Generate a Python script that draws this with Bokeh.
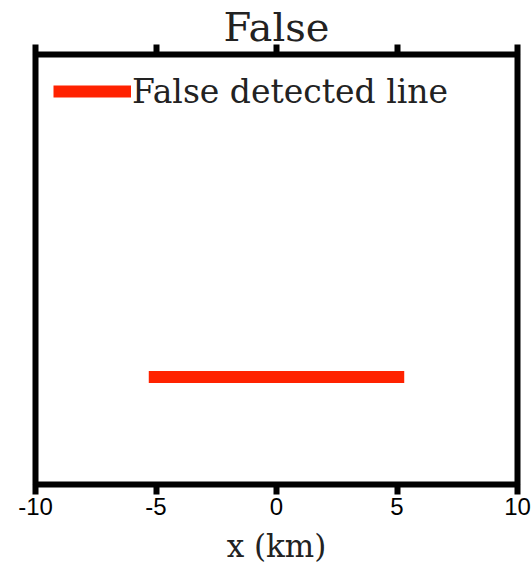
from bokeh.plotting import figure
from bokeh.models import FixedTicker, LinearAxis, Legend, LegendItem, Range1d
from bokeh.embed import file_html
from bokeh.resources import INLINE

# ---- data ----
title_text = "False"
legend_label = "False detected line"
line_x = [-5.3, 5.3]
line_y = [-5.0, -5.0]
x_ticks = [-10, -5, 0, 5, 10]
x_tick_labels = ["-10", "-5", "0", "5", "10"]
x_label = "x (km)"
x_lim = [-10, 10]
y_lim = [-10, 10]

p = figure(width=531, height=566, output_backend="svg", toolbar_location=None,
           x_range=Range1d(x_lim[0], x_lim[1]), y_range=Range1d(y_lim[0], y_lim[1]),
           x_axis_location=None, y_axis_location=None,
           min_border_left=35, min_border_right=14, min_border_top=51, min_border_bottom=80)
p.grid.visible = False
p.background_fill_color = "white"
p.border_fill_color = "white"
p.outline_line_color = "black"
p.outline_line_width = 6

SERIF = "DejaVu Serif"

def style_axis(ax):
    ax.axis_line_color = None
    ax.major_tick_line_color = "black"
    ax.major_tick_line_width = 6
    ax.major_tick_out = 10
    ax.major_tick_in = 0
    ax.minor_tick_line_color = None

# bottom axis with tick labels and axis label
xb = LinearAxis(ticker=FixedTicker(ticks=x_ticks), axis_label=x_label)
style_axis(xb)
xb.major_label_overrides = {t: s for t, s in zip(x_ticks, x_tick_labels)}
xb.major_label_text_font = "Liberation Sans"
xb.major_label_text_font_size = "24px"
xb.major_label_text_color = "black"
xb.major_label_standoff = 3
xb.axis_label_text_font = SERIF
xb.axis_label_text_font_size = "31px"
xb.axis_label_text_font_style = "normal"
xb.axis_label_text_color = "#222222"
xb.axis_label_standoff = 10
p.add_layout(xb, "below")

# top axis: ticks only, title as its label
xt = LinearAxis(ticker=FixedTicker(ticks=x_ticks), axis_label=title_text)
style_axis(xt)
xt.major_label_text_color = None
xt.major_label_text_font_size = "1px"
xt.major_label_standoff = 0
xt.axis_label_text_font = SERIF
xt.axis_label_text_font_size = "40px"
xt.axis_label_text_font_style = "normal"
xt.axis_label_text_color = "#222222"
xt.axis_label_standoff = -5
p.add_layout(xt, "above")

r = p.line(line_x, line_y, line_color="#ff2200", line_width=12)

leg = Legend(items=[LegendItem(label=legend_label, renderers=[r])], location=(18, 373))
leg.label_text_font = SERIF
leg.label_text_font_size = "33px"
leg.label_text_color = "#222222"
leg.glyph_width = 78
leg.glyph_height = 40
leg.label_height = 40
leg.label_standoff = 1
leg.padding = 0
leg.margin = 0
leg.border_line_color = None
leg.background_fill_alpha = 0
p.add_layout(leg)

open("out.html", "w").write(file_html(p, INLINE))
